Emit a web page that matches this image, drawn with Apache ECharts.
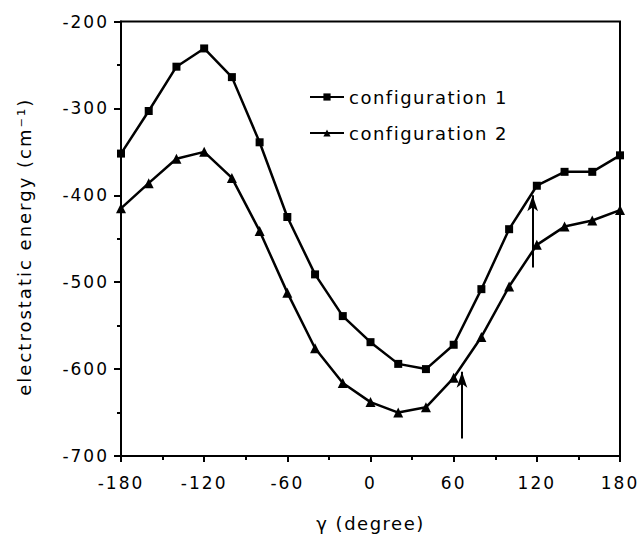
<!DOCTYPE html>
<html>
<head>
<meta charset="utf-8">
<script src="https://cdn.jsdelivr.net/npm/echarts@6/dist/echarts.min.js"></script>
<style>html,body{margin:0;padding:0;background:#fff;}#c{width:640px;height:539px;}</style>
</head>
<body>
<div id="c"></div>
<script>
const gamma = [-180,-160,-140,-120,-100,-80,-60,-40,-20,0,20,40,60,80,100,120,140,160,180];
const config1 = [-352,-303,-252,-231,-264,-339,-425,-491,-539,-569,-594,-600,-572,-508,-439,-389,-373,-373,-354];
const config2 = [-415,-386,-358,-350,-380,-441,-512,-576,-616,-638,-650,-644,-610,-563,-505,-457,-436,-429,-417];
const arrow1 = [[66,-680],[66,-603]];
const arrow2 = [[117,-483],[117,-400]];
const seriesNames = ['configuration 1','configuration 2'];

const font = 'DejaVu Sans';
const chart = echarts.init(document.getElementById('c'), null, {renderer:'svg'});
const arrowLine = (a) => [
  {coord:a[0], symbol:'none'},
  {coord:a[1], symbol:'arrow', symbolSize:[8,16]}
];
chart.setOption({
  animation:false,
  backgroundColor:'#fff',
  grid:{left:121,right:20,top:21.5,bottom:83,show:true,borderColor:'#000',borderWidth:2},
  legend:{
    data:seriesNames,
    orient:'vertical',
    left:304, top:83,
    itemWidth:34, itemHeight:9, itemGap:18,
    textStyle:{fontFamily:font,fontSize:18,color:'#000'}
  },
  xAxis:{
    type:'value', min:-180, max:180, interval:60,
    name:'γ (degree)', nameLocation:'middle', nameGap:58,
    nameTextStyle:{fontFamily:font,fontSize:18,color:'#000'},
    axisLine:{onZero:false,lineStyle:{color:'#000',width:2}},
    axisTick:{show:true,length:6,lineStyle:{color:'#000',width:2}},
    minorTick:{show:true,splitNumber:2,length:4,lineStyle:{color:'#000',width:2}},
    splitLine:{show:false},
    axisLabel:{fontFamily:font,fontSize:17,color:'#000',margin:18,
      formatter:v=> v<0 ? '-' + Math.abs(v) : String(v)}
  },
  yAxis:{
    type:'value', min:-700, max:-200, interval:100,
    name:'electrostatic energy (cm⁻¹)', nameLocation:'middle', nameGap:88,
    nameTextStyle:{fontFamily:font,fontSize:18,color:'#000',padding:[0,16,0,0]},
    axisLine:{onZero:false,lineStyle:{color:'#000',width:2}},
    axisTick:{show:true,length:7,lineStyle:{color:'#000',width:2}},
    minorTick:{show:true,splitNumber:2,length:4,lineStyle:{color:'#000',width:2}},
    splitLine:{show:false},
    axisLabel:{fontFamily:font,fontSize:17,color:'#000',margin:12,
      formatter:v=> '-' + Math.abs(v)}
  },
  series:[
    {name:seriesNames[0],type:'line',data:gamma.map((g,i)=>[g,config1[i]]),
     symbol:'rect',symbolSize:8,itemStyle:{color:'#000'},lineStyle:{color:'#000',width:2.5},
     markLine:{silent:true,animation:false,label:{show:false},lineStyle:{color:'#000',width:2,type:'solid'},
       data:[arrowLine(arrow2)]}},
    {name:seriesNames[1],type:'line',data:gamma.map((g,i)=>[g,config2[i]]),
     symbol:'triangle',symbolSize:10,itemStyle:{color:'#000'},lineStyle:{color:'#000',width:2.5},
     markLine:{silent:true,animation:false,label:{show:false},lineStyle:{color:'#000',width:2,type:'solid'},
       data:[arrowLine(arrow1)]}}
  ]
});
function spaceText(){
  chart.getZr().refreshImmediately();
  document.querySelectorAll('#c text').forEach(t=>{
    const s = t.textContent;
    let ls = 1.5;
    if (/^-?\d+$/.test(s)) ls = 2;
    else if (s.indexOf('configuration')===0) ls = 1.5;
    else if (s.indexOf('electrostatic')===0) ls = 2;
    t.style.letterSpacing = ls + 'px';
  });
}
spaceText();
</script>
</body>
</html>
